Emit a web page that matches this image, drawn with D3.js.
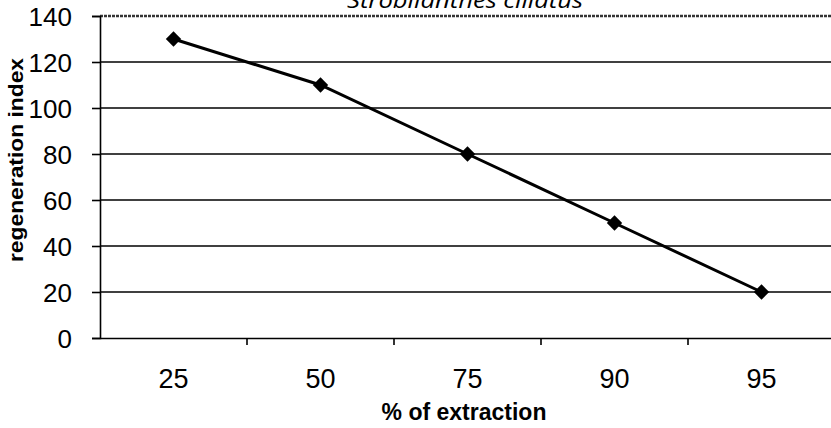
<!DOCTYPE html>
<html>
<head>
<meta charset="utf-8">
<script src="https://cdn.jsdelivr.net/npm/d3@7"></script>
<style>
  html, body { margin: 0; padding: 0; background: #fff; }
  svg { display: block; }
</style>
</head>
<body>
<svg id="chart" width="831" height="428"></svg>
<script>
const categories = ["25", "50", "75", "90", "95"];
const values = [130, 110, 80, 50, 20];
const yTicks = [0, 20, 40, 60, 80, 100, 120, 140];
const title = "Strobilanthes ciliatus";
const xTitle = "% of extraction";
const yTitle = "regeneration index";

const svg = d3.select("#chart");
const mLeft = 100, mRight = 835, mTop = 16, mBottom = 338;

const x = d3.scaleBand().domain(categories).range([mLeft, mRight]).padding(0);
const y = d3.scaleLinear().domain([0, 140]).range([mBottom, mTop]);

// gridlines
svg.append("g").selectAll("line").data(yTicks.filter(d => d > 0)).join("line")
  .attr("x1", mLeft).attr("x2", 831)
  .attr("y1", d => y(d)).attr("y2", d => y(d))
  .attr("stroke", d => d === 140 ? "#333" : "#000")
  .attr("stroke-width", d => d === 140 ? 2.5 : 1.6)
  .attr("stroke-dasharray", d => d === 140 ? "3,1" : null);

// y axis
const yAxis = svg.append("g").attr("transform", `translate(${mLeft},0)`)
  .call(d3.axisLeft(y).tickValues(yTicks).tickSize(8).tickPadding(20));
yAxis.select(".domain").attr("stroke", "#000").attr("stroke-width", 1.6);
yAxis.selectAll(".tick line").attr("stroke", "#000").attr("stroke-width", 1.6);
yAxis.selectAll(".tick text")
  .attr("font-family", "Liberation Sans, Arial, sans-serif")
  .attr("font-size", 26).attr("fill", "#000").attr("dy", "0.36em");

// x axis
const xAxis = svg.append("g").attr("transform", `translate(0,${mBottom})`)
  .call(d3.axisBottom(x).tickSize(0).tickPadding(31));
xAxis.select(".domain").attr("stroke", "#000").attr("stroke-width", 1.6)
  .attr("d", `M${mLeft},0.5H831`);
xAxis.selectAll(".tick text")
  .attr("font-family", "Liberation Sans, Arial, sans-serif")
  .attr("font-size", 27).attr("fill", "#000");
// boundary ticks
xAxis.append("g").selectAll("line").data(categories.slice(1)).join("line")
  .attr("x1", d => x(d)).attr("x2", d => x(d))
  .attr("y1", 0).attr("y2", 7)
  .attr("stroke", "#000").attr("stroke-width", 1.6);

// line
const line = d3.line().x((d, i) => x(categories[i]) + x.bandwidth() / 2).y(d => y(d));
svg.append("path").datum(values)
  .attr("d", line).attr("fill", "none")
  .attr("stroke", "#000").attr("stroke-width", 3);

// markers
svg.append("g").selectAll("path").data(values).join("path")
  .attr("d", d3.symbol(d3.symbolDiamond2, 150))
  .attr("transform", (d, i) => `translate(${x(categories[i]) + x.bandwidth() / 2},${y(d)})`)
  .attr("fill", "#000");

// title
svg.append("text")
  .attr("x", 465).attr("y", 8).attr("text-anchor", "middle")
  .attr("font-family", "Open Sans, sans-serif").attr("font-style", "italic")
  .attr("font-size", 21).attr("fill", "#000")
  .attr("textLength", 236).attr("lengthAdjust", "spacingAndGlyphs")
  .text(title);

// x title
svg.append("text")
  .attr("x", 464).attr("y", 420).attr("text-anchor", "middle")
  .attr("font-family", "Liberation Sans, Arial, sans-serif").attr("font-weight", "bold")
  .attr("font-size", 23).attr("fill", "#000")
  .text(xTitle);

// y title
svg.append("text")
  .attr("transform", "translate(23,160) rotate(-90)")
  .attr("text-anchor", "middle")
  .attr("font-family", "Liberation Sans, Arial, sans-serif").attr("font-weight", "bold")
  .attr("font-size", 21).attr("fill", "#000")
  .attr("textLength", 204).attr("lengthAdjust", "spacingAndGlyphs")
  .text(yTitle);
</script>
</body>
</html>
